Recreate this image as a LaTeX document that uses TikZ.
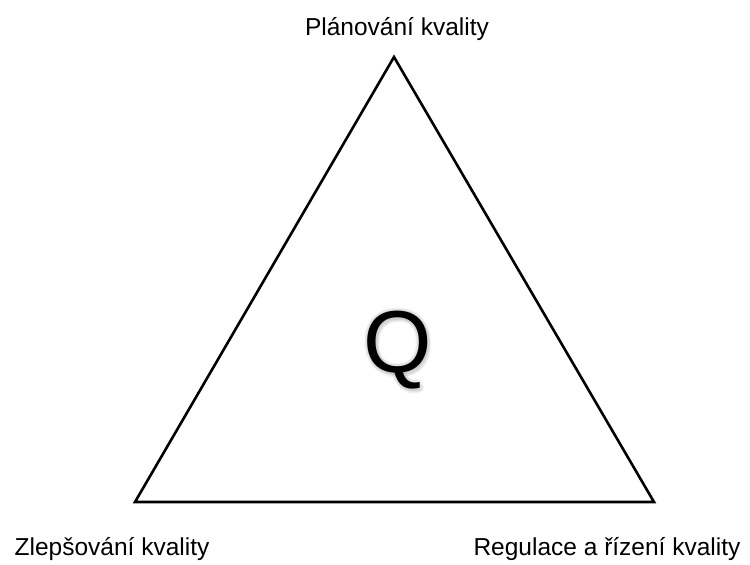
\documentclass[tikz,border=0pt]{standalone}
\usepackage{fontspec}
\setmainfont{Liberation Sans}
\begin{document}
\begin{tikzpicture}[x=1pt,y=-1pt,
  lbl/.style={font=\fontsize{24.5}{29}\selectfont, anchor=base, inner sep=0pt},
  qglow/.style={font=\fontsize{88}{100}\selectfont, inner sep=0pt, text=black!35, opacity=0.12},
  edge/.style={line width=2.6pt, line join=miter}]
\useasboundingbox (0,0) rectangle (750,565);
\coordinate (top) at (394,57);
\coordinate (bl) at (135,502);
\coordinate (br) at (654,502);
\draw[edge] (top) -- (bl) -- (br) -- cycle;
\foreach \dx/\dy in {-3/0,3/0,0/-3,0/3,-2/-2,2/2,-2/2,2/-2,3/4,4/3,1/5}{
  \node[qglow] at (398+\dx,350+\dy) {Q};
}
\node[font=\fontsize{88}{100}\selectfont, inner sep=0pt] (q) at (398,350) {Q};
\node[lbl] (plan) at (397,35) {Plánování kvality};
\node[lbl] (zlep) at (112,555) {Zlepšování kvality};
\node[lbl] (reg) at (607,555) {Regulace a řízení kvality};
\end{tikzpicture}
\end{document}
